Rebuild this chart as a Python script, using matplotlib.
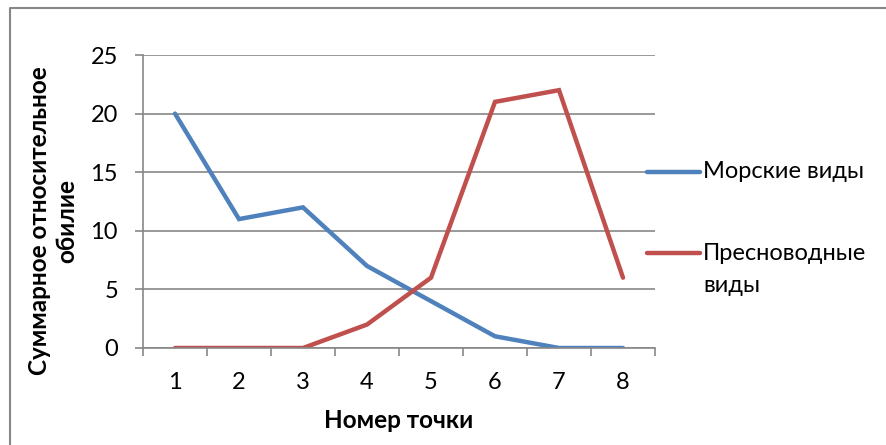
import matplotlib
matplotlib.use('Agg')
import matplotlib.pyplot as plt
from matplotlib.lines import Line2D
import numpy as np

plt.rcParams['font.family'] = ['Lato', 'DejaVu Sans']

points = [1, 2, 3, 4, 5, 6, 7, 8]
marine = [20, 11, 12, 7, 4, 1, 0, 0]
freshwater = [0, 0, 0, 2, 6, 21, 22, 6]
y_ticks = [0, 5, 10, 15, 20, 25]

blue = '#4F81BD'
red = '#C0504D'
gray = '#878787'

fig = plt.figure(figsize=(8.87, 4.45), dpi=100)
ax = fig.add_axes([143/887, 1 - 348/445, (655 - 143)/887, (348 - 55)/445])

x = np.arange(len(points)) + 1
ax.plot(x, marine, color=blue, linewidth=3.2, solid_capstyle='round', solid_joinstyle='miter')
ax.plot(x, freshwater, color=red, linewidth=3.2, solid_capstyle='round', solid_joinstyle='miter')

ax.set_xlim(0.5, len(points) + 0.5)
ax.set_ylim(0, 25)
ax.set_yticks(y_ticks)
ax.set_xticks(x)
ax.set_xticklabels([str(p) for p in points])
# category boundaries get the tick marks
ax.set_xticks(np.arange(len(points) + 1) + 0.5, minor=True)
ax.tick_params(axis='x', which='major', length=0, pad=17, labelsize=17)
ax.tick_params(axis='x', which='minor', length=6, width=1.2, color=gray, direction='out')
ax.tick_params(axis='y', length=6, width=1.2, color=gray, direction='out', pad=12, labelsize=17)

ax.grid(axis='y', color=gray, linewidth=1.2)
ax.set_axisbelow(True)
for s in ['top', 'right']:
    ax.spines[s].set_visible(False)
for s in ['left', 'bottom']:
    ax.spines[s].set_color(gray)
    ax.spines[s].set_linewidth(1.2)

ax.set_xlabel('Номер точки', fontsize=17.5, fontweight='bold', labelpad=12)
fig.text(53/887, 1 - 221/445, 'Суммарное относительное\nобилие', rotation=90,
         ha='center', va='center', fontsize=17.5, fontweight='bold', multialignment='center',
         linespacing=1.2)

# legend drawn by hand so the handle sits on the first text line
for yy, col in [(172, blue), (253, red)]:
    fig.add_artist(Line2D([647/887, 700/887], [1 - yy/445, 1 - yy/445], color=col,
                          linewidth=3.2, solid_capstyle='round'))
fig.text(703/887, 1 - 172/445, 'Морские виды', ha='left', va='center', fontsize=17)
fig.text(703/887, 1 - 253/445, 'Пресноводные', ha='left', va='center', fontsize=17)
fig.text(703/887, 1 - 286/445, 'виды', ha='left', va='center', fontsize=17)

# outer chart frame
fig.add_artist(Line2D([10/887, 10/887, 1.0], [0.0, 1 - 8/445, 1 - 8/445], color=gray, linewidth=1.5))

fig.savefig('out.png', dpi=100)
